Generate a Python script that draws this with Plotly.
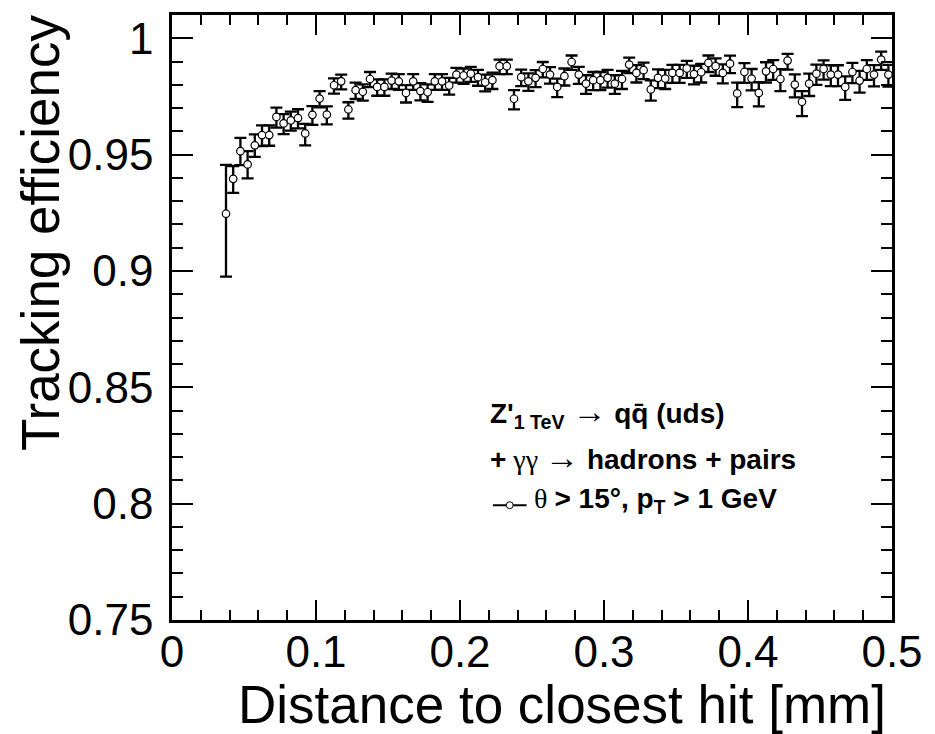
import plotly.graph_objects as go

# ---- data ----
distance_mm = [
    0.0375, 0.0425, 0.0475, 0.0525, 0.0575, 0.0625, 0.0675, 0.0725, 0.0775, 0.0825,
    0.0875, 0.0925, 0.0975, 0.1025, 0.1075, 0.1125, 0.1175, 0.1225, 0.1275, 0.1325,
    0.1375, 0.1425, 0.1475, 0.1525, 0.1575, 0.1625, 0.1675, 0.1725, 0.1775, 0.1825,
    0.1875, 0.1925, 0.1975, 0.2025, 0.2075, 0.2125, 0.2175, 0.2225, 0.2275, 0.2325,
    0.2375, 0.2425, 0.2475, 0.2525, 0.2575, 0.2625, 0.2675, 0.2725, 0.2775, 0.2825,
    0.2875, 0.2925, 0.2975, 0.3025, 0.3075, 0.3125, 0.3175, 0.3225, 0.3275, 0.3325,
    0.3375, 0.3425, 0.3475, 0.3525, 0.3575, 0.3625, 0.3675, 0.3725, 0.3775, 0.3825,
    0.3875, 0.3925, 0.3975, 0.4025, 0.4075, 0.4125, 0.4175, 0.4225, 0.4275, 0.4325,
    0.4375, 0.4425, 0.4475, 0.4525, 0.4575, 0.4625, 0.4675, 0.4725, 0.4775, 0.4825,
    0.4875, 0.4925, 0.4975,
]

efficiency = [
    0.9246, 0.9396, 0.9515, 0.9458, 0.9540, 0.9584, 0.9584, 0.9662, 0.9634, 0.9647,
    0.9657, 0.9591, 0.9671, 0.9741, 0.9672, 0.9798, 0.9815, 0.9694, 0.9777, 0.9770,
    0.9825, 0.9791, 0.9791, 0.9818, 0.9815, 0.9765, 0.9815, 0.9773, 0.9768, 0.9815,
    0.9815, 0.9797, 0.9844, 0.9840, 0.9848, 0.9833, 0.9811, 0.9820, 0.9880, 0.9880,
    0.9740, 0.9833, 0.9815, 0.9830, 0.9868, 0.9844, 0.9791, 0.9837, 0.9898, 0.9844,
    0.9805, 0.9820, 0.9820, 0.9830, 0.9805, 0.9825, 0.9887, 0.9851, 0.9863, 0.9780,
    0.9830, 0.9827, 0.9851, 0.9851, 0.9870, 0.9846, 0.9854, 0.9894, 0.9880, 0.9851,
    0.9891, 0.9763, 0.9855, 0.9827, 0.9765, 0.9858, 0.9868, 0.9825, 0.9904, 0.9801,
    0.9727, 0.9805, 0.9848, 0.9868, 0.9844, 0.9844, 0.9791, 0.9855, 0.9818, 0.9868,
    0.9844, 0.9908, 0.9844,
]

err_up = [
    0.0210, 0.0055, 0.0057, 0.0057, 0.0047, 0.0042, 0.0042, 0.0040, 0.0040, 0.0038,
    0.0038, 0.0041, 0.0037, 0.0032, 0.0035, 0.0030, 0.0029, 0.0031, 0.0032, 0.0032,
    0.0030, 0.0032, 0.0032, 0.0030, 0.0031, 0.0034, 0.0031, 0.0034, 0.0034, 0.0031,
    0.0031, 0.0033, 0.0029, 0.0030, 0.0029, 0.0031, 0.0033, 0.0032, 0.0028, 0.0028,
    0.0037, 0.0032, 0.0034, 0.0033, 0.0030, 0.0032, 0.0036, 0.0033, 0.0028, 0.0033,
    0.0036, 0.0035, 0.0035, 0.0034, 0.0036, 0.0035, 0.0030, 0.0034, 0.0032, 0.0039,
    0.0036, 0.0037, 0.0035, 0.0035, 0.0033, 0.0036, 0.0036, 0.0032, 0.0034, 0.0037,
    0.0034, 0.0046, 0.0038, 0.0041, 0.0046, 0.0039, 0.0038, 0.0042, 0.0029, 0.0044,
    0.0046, 0.0043, 0.0039, 0.0037, 0.0040, 0.0040, 0.0045, 0.0039, 0.0042, 0.0038,
    0.0041, 0.0035, 0.0042,
]

err_down = [
    0.0270, 0.0060, 0.0060, 0.0060, 0.0050, 0.0047, 0.0046, 0.0046, 0.0046, 0.0044,
    0.0044, 0.0051, 0.0043, 0.0038, 0.0042, 0.0036, 0.0035, 0.0039, 0.0038, 0.0038,
    0.0035, 0.0038, 0.0038, 0.0036, 0.0037, 0.0041, 0.0037, 0.0040, 0.0041, 0.0037,
    0.0037, 0.0039, 0.0035, 0.0036, 0.0035, 0.0037, 0.0039, 0.0038, 0.0034, 0.0034,
    0.0046, 0.0039, 0.0041, 0.0040, 0.0036, 0.0039, 0.0044, 0.0040, 0.0034, 0.0040,
    0.0044, 0.0043, 0.0043, 0.0042, 0.0044, 0.0043, 0.0037, 0.0041, 0.0039, 0.0048,
    0.0044, 0.0045, 0.0043, 0.0043, 0.0040, 0.0044, 0.0044, 0.0039, 0.0041, 0.0045,
    0.0041, 0.0059, 0.0047, 0.0051, 0.0058, 0.0048, 0.0047, 0.0052, 0.0039, 0.0055,
    0.0062, 0.0053, 0.0048, 0.0046, 0.0050, 0.0050, 0.0056, 0.0048, 0.0052, 0.0047,
    0.0051, 0.0044, 0.0052,
]

x_tick_vals = [0, 0.1, 0.2, 0.3, 0.4, 0.5]
x_tick_text = ["0", "0.1", "0.2", "0.3", "0.4", "0.5"]
y_tick_vals = [0.75, 0.8, 0.85, 0.9, 0.95, 1.0]
y_tick_text = ["0.75", "0.8", "0.85", "0.9", "0.95", "1"]

x_title = "Distance to closest hit [mm]"
y_title = "Tracking efficiency"

# ---- layout geometry (pixels) ----
W, H = 935, 734
ML, MR, MT, MB = 172, 36, 14, 114
PW, PH = W - ML - MR, H - MT - MB


def px(xp):
    return (xp - ML) / PW


def py(yp):
    return (H - MB - yp) / PH


SANS = "Liberation Sans, Arial, Helvetica, sans-serif"
SERIF = "Liberation Serif"
ARROW = f"<span style='font-family:{SERIF};font-size:34px'>→</span>"

fig = go.Figure()
fig.add_trace(go.Scatter(
    x=distance_mm, y=efficiency, mode="markers",
    marker=dict(symbol="circle", size=7.5, color="white",
                line=dict(color="black", width=1.2)),
    error_y=dict(type="data", symmetric=False, array=err_up, arrayminus=err_down,
                 color="black", thickness=2.3, width=6),
    showlegend=False,
))

axis_common = dict(
    showline=True, linecolor="black", linewidth=2.5, mirror="ticks",
    ticks="inside", tickwidth=2, tickcolor="black", showgrid=False, zeroline=False,
    tickfont=dict(family=SANS, size=44, color="black"),
)

fig.update_xaxes(
    range=[0, 0.5], tickvals=x_tick_vals, ticktext=x_tick_text, ticklen=20,
    ticklabelstandoff=-9,
    minor=dict(ticks="inside", ticklen=10, tickwidth=2, tickcolor="black",
               dtick=0.02, tick0=0, showgrid=False),
    **axis_common,
)
fig.update_yaxes(
    range=[0.75, 1.01], tickvals=y_tick_vals, ticktext=y_tick_text, ticklen=21,
    ticklabelstandoff=7,
    minor=dict(ticks="inside", ticklen=11, tickwidth=2, tickcolor="black",
               dtick=0.01, tick0=0.75, showgrid=False),
    **axis_common,
)

annotations = [
    dict(text=x_title, xref="paper", yref="paper", x=px(895), y=py(705),
         xanchor="right", yanchor="middle", showarrow=False,
         font=dict(family=SANS, size=53, color="black")),
    dict(text=y_title, xref="paper", yref="paper", x=px(39), y=py(232),
         xanchor="center", yanchor="middle", textangle=-90, showarrow=False,
         font=dict(family=SANS, size=53, color="black")),
    dict(text=("<b>Z'</b><sub><b>1 TeV</b></sub> " + ARROW + " <b>qq\u0304 (uds)</b>"),
         xref="paper", yref="paper", x=px(491), y=py(413),
         xanchor="left", yanchor="middle", showarrow=False,
         font=dict(family=SANS, size=28, color="black")),
    dict(text=(f"<b>+</b><span style='font-family:{SERIF}'> γγ </span>" + ARROW +
               " <b>hadrons + pairs</b>"),
         xref="paper", yref="paper", x=px(491), y=py(457),
         xanchor="left", yanchor="middle", showarrow=False,
         font=dict(family=SANS, size=28, color="black")),
    dict(text=(f"<span style='font-family:{SERIF}'>θ </span>"
               "<b>&gt; 15°, p</b><sub><b>T</b></sub><b> &gt; 1 GeV</b>"),
         xref="paper", yref="paper", x=px(535), y=py(500),
         xanchor="left", yanchor="middle", showarrow=False,
         font=dict(family=SANS, size=28, color="black")),
]

# legend glyph: horizontal bar with open marker
shapes = [
    dict(type="line", xref="paper", yref="paper", x0=px(496), x1=px(530),
         y0=py(505), y1=py(505), line=dict(color="black", width=2)),
    dict(type="circle", xref="paper", yref="paper", x0=px(509.5), x1=px(516.5),
         y0=py(508.5), y1=py(501.5), fillcolor="white",
         line=dict(color="black", width=1)),
]

fig.update_layout(
    width=W, height=H, autosize=False,
    margin=dict(l=ML, r=MR, t=MT, b=MB, pad=0),
    paper_bgcolor="white", plot_bgcolor="white",
    annotations=annotations, shapes=shapes,
    showlegend=False,
)

fig.write_html("out.html")
